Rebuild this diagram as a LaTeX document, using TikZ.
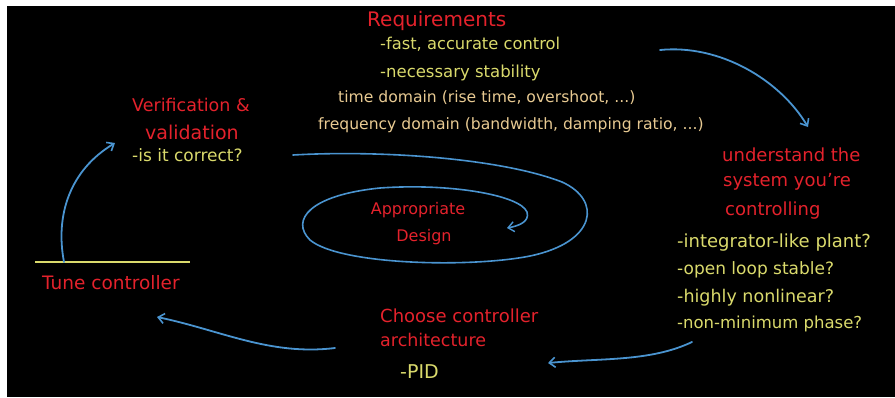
\documentclass[tikz,border=0pt]{standalone}
\usepackage{fontspec}
\setmainfont{DejaVu Sans}
\usetikzlibrary{arrows.meta}
\definecolor{chalkred}{HTML}{E4222C}
\definecolor{chalkyel}{HTML}{DADA6C}
\definecolor{chalkbeige}{HTML}{E8CA92}
\definecolor{chalkblue}{HTML}{4A94D0}
\newcommand{\fs}[1]{\fontsize{#1}{#1}\selectfont}
\begin{document}
\begin{tikzpicture}[x=1pt,y=-1pt,
  redtxt/.style={text=chalkred,font=\fs{17.5},inner sep=0pt,anchor=west},
  yeltxt/.style={text=chalkyel,font=\fs{16},inner sep=0pt,anchor=west},
  beigetxt/.style={text=chalkbeige,font=\fs{15.6},inner sep=0pt,anchor=west},
  flow/.style={draw=chalkblue,line width=1.8pt,line cap=round,-{Straight Barb[length=6pt,width=10pt,line width=1.6pt]}},
  spiral/.style={draw=chalkblue,line width=1.6pt,line cap=round,-{Straight Barb[length=6pt,width=10pt,line width=1.4pt]}}]
\useasboundingbox (0,0) rectangle (895,397);
\fill[white] (0,0) rectangle (895,397);
\fill[black] (7,6) rectangle (895,397);
% Requirements
\node[redtxt,font=\fs{20}] (req) at (367,21) {Requirements};
\node[yeltxt,font=\fs{16.3}] (r1) at (380,44) {-fast, accurate control};
\node[yeltxt,font=\fs{16.5}] (r2) at (380,73) {-necessary stability};
\node[beigetxt] (td) at (338,98) {time domain (rise time, overshoot, ...)};
\node[beigetxt] (fd) at (318,125) {frequency domain (bandwidth, damping ratio, ...)};
% Verification
\node[redtxt] (v1) at (132,105) {Verification \&};
\node[redtxt,font=\fs{19}] (v2) at (145,132) {validation};
\node[yeltxt,font=\fs{17}] (v3) at (132,155) {-is it correct?};
% Understand
\node[redtxt,font=\fs{18}] (u1) at (722,155) {understand the};
\node[redtxt,font=\fs{18}] (u2) at (723,182) {system you're};
\node[redtxt,font=\fs{18}] (u3) at (725,211) {controlling};
\node[yeltxt,font=\fs{18}] (u4) at (677,243) {-integrator-like plant?};
\node[yeltxt,font=\fs{17}] (u5) at (677,270) {-open loop stable?};
\node[yeltxt,font=\fs{17.5}] (u6) at (677,298) {-highly nonlinear?};
\node[yeltxt,font=\fs{16.5}] (u7) at (677,324) {-non-minimum phase?};
% Choose
\node[redtxt,font=\fs{18}] (c1) at (380,316) {Choose controller};
\node[redtxt] (c2) at (380,340) {architecture};
\node[yeltxt,font=\fs{19}] (c3) at (400,372) {-PID};
% Tune
\coordinate (tl1) at (35,262);
\coordinate (tl2) at (190,262);
\draw[chalkyel,line width=1.8pt] (tl1) -- (tl2);
\node[redtxt,font=\fs{18.5}] (t1) at (42,283) {Tune controller};
% Appropriate design
\node[text=chalkred,font=\fs{16},inner sep=0pt] (a1) at (418,210) {Appropriate};
\node[text=chalkred,font=\fs{16},inner sep=0pt] (a2) at (424,237) {Design};
% arrows
\coordinate (s1) at (660,50);
\coordinate (e1) at (808,127);
\draw[flow] (s1) .. controls (720,44) and (780,80) .. (e1);
\coordinate (s2) at (692,342);
\coordinate (e2) at (548,363);
\draw[flow] (s2) .. controls (650,362) and (600,358) .. (e2);
\coordinate (s3) at (335,348);
\coordinate (e3) at (157,317);
\draw[flow] (s3) .. controls (270,356) and (220,330) .. (e3);
\coordinate (s4) at (64,262);
\coordinate (e4) at (115,143);
\draw[flow] (s4) .. controls (55,215) and (70,170) .. (e4);
% spiral
\coordinate (sp0) at (293,155);
\coordinate (sp9) at (507,228);
\draw[spiral] (sp0) .. controls (380,150) and (500,158) .. (562,182)
  .. controls (602,200) and (597,242) .. (530,256)
  .. controls (470,268) and (340,265) .. (310,240)
  .. controls (290,220) and (310,195) .. (380,188)
  .. controls (450,183) and (520,195) .. (527,212)
  .. controls (530,222) and (518,226) .. (sp9);
\end{tikzpicture}
\end{document}
